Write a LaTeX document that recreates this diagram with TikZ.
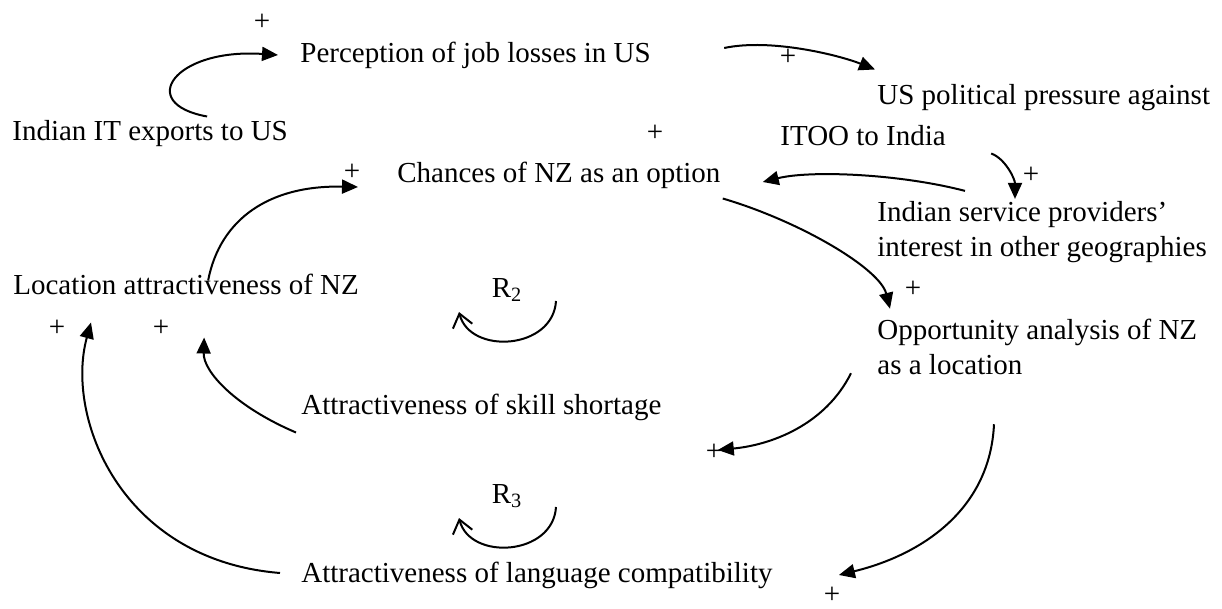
\documentclass[tikz,border=0pt]{standalone}
\usepackage{fontspec}
\setmainfont{Liberation Serif}
\usetikzlibrary{arrows.meta}
\tikzset{
  var/.style={anchor=west,inner sep=0pt,text height=0.69em,text depth=0.22em},
  var2/.style={anchor=west,inner sep=0pt,align=left},
  pol/.style={inner sep=0pt},
  link/.style={line width=1pt,-{Triangle[length=8pt,width=7pt]}},
  loopmark/.style={line width=1pt,-{Straight Barb[length=6.5pt,width=10pt]}}
}
\begin{document}
\begin{tikzpicture}[x=0.5pt,y=-0.5pt,font=\fontsize{14.5}{17.5}\selectfont]
  \useasboundingbox (0,0) rectangle (1222,609);
  \node[var] (exports) at (12,136) {Indian IT exports to US};
  \node[var] (perception) at (300,58) {Perception of job losses in US};
  \node[var] (pressure) at (877,100) {US political pressure against};
  \node[var] (itoo) at (780,141) {ITOO to India};
  \node[var] (chances) at (397,178) {Chances of NZ as an option};
  \node[var2] (providers) at (877,232) {Indian service providers'\\interest in other geographies};
  \node[var] (location) at (13,290) {Location attractiveness of NZ};
  \node[var2] (opportunity) at (877,347) {Opportunity analysis of NZ\\as a location};
  \node[var] (skill) at (301,410) {Attractiveness of skill shortage};
  \node[var] (language) at (301,578) {Attractiveness of language compatibility};
  \node (rtwo) at (507,290) {R\textsubscript{2}};
  \node (rthree) at (507,496) {R\textsubscript{3}};
  \node[pol] (p1) at (262,22) {+};
  \node[pol] (p2) at (788,57) {+};
  \node[pol] (p3) at (655,133) {+};
  \node[pol] (p4) at (352,172) {+};
  \node[pol] (p5) at (1031,175) {+};
  \node[pol] (p6) at (913,289) {+};
  \node[pol] (p7) at (57,328) {+};
  \node[pol] (p8) at (161,328) {+};
  \node[pol] (p9) at (714,452) {+};
  \node[pol] (p10) at (832,595) {+};
  \begin{scope}[link]
    \draw ([shift={(57,-10)}]exports.north) .. controls +(-72,-13) and +(-103,-7) .. ([shift={(-22,-3)}]perception.west);
    \draw ([shift={(73,-10)}]perception.east) .. controls +(47,-10) and +(-35,-14) .. ([shift={(-2,-21)}]pressure.north west);
    \draw ([shift={(45,3)}]itoo.south east) .. controls +(14,5) and +(0,-20) .. ([shift={(138,-2)}]providers.north west);
    \draw ([shift={(88,-10)}]providers.north west) .. controls +(-65,-17) and +(48,-12) .. ([shift={(42,4)}]chances.east);
    \draw ([shift={(2,11)}]chances.south east) .. controls +(78,23) and +(-10,-40) .. ([shift={(13,-10)}]opportunity.north west);
    \draw ([shift={(22,0)}]location.north) .. controls +(12,-62) and +(-88,-2) .. ([shift={(-39,9)}]chances.west);
    \draw ([shift={(-5,13)}]skill.south west) .. controls +(-61,-26) and +(-1,34) .. ([shift={(18,38)}]location.south);
    \draw ([shift={(-21,-5)}]language.west) .. controls +(-160,-13) and +(-26,94) .. ([shift={(78,23)}]location.south west);
    \draw ([shift={(-26,-2)}]opportunity.south west) .. controls +(-26,52) and +(53,-5) .. ([shift={(56,40)}]skill.east);
    \draw ([shift={(117,49)}]opportunity.south west) .. controls +(-4,86) and +(82,-20) .. ([shift={(66,-3)}]language.east);
  \end{scope}
  \begin{scope}[loopmark]
    \draw ([shift={(49,11)}]rtwo.center) .. controls +(-3,49) and +(11,43) .. ([shift={(-48,22)}]rtwo.center);
    \draw ([shift={(49,11)}]rthree.center) .. controls +(-3,49) and +(11,43) .. ([shift={(-48,22)}]rthree.center);
  \end{scope}
\end{tikzpicture}
\end{document}
